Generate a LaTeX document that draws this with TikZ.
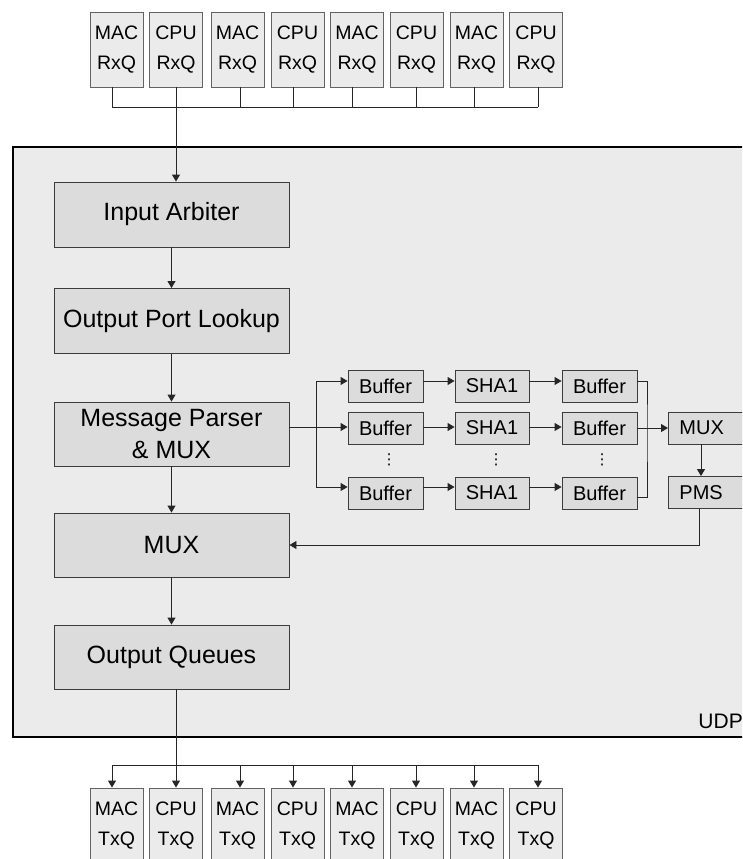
\documentclass[tikz,border=0pt]{standalone}
\usepackage{fontspec}
\setmainfont{Liberation Sans}
\newfontfamily\dotsfont{DejaVu Sans}
\usetikzlibrary{arrows.meta}
\definecolor{panel}{HTML}{EBEBEB}
\definecolor{blockfill}{HTML}{DCDCDC}
\definecolor{queuefill}{HTML}{EBEBEB}
\definecolor{edge}{HTML}{3C3C3C}

\begin{document}
\begin{tikzpicture}[x=1pt,y=-1pt,
  big/.style={draw=edge, fill=blockfill, line width=0.9pt, minimum width=235pt,
    minimum height=65pt, inner sep=0pt, font=\fontsize{25}{32}\selectfont, align=center},
  queue/.style={draw=edge!80, fill=queuefill, line width=0.9pt, minimum width=53pt,
    minimum height=75pt, inner sep=0pt, font=\fontsize{19.5}{30}\selectfont, align=center},
  small/.style={draw=edge, fill=blockfill, line width=0.9pt, minimum width=75pt,
    minimum height=32pt, inner sep=0pt, font=\fontsize{20}{24}\selectfont},
  side/.style={small, anchor=west, text width=72pt, align=left, inner xsep=11pt},
  wire/.style={draw=black!85, line width=0.9pt},
  arr/.style={wire, -{Triangle[length=7pt,width=8pt]}},
]
\useasboundingbox (0,0) rectangle (742,859);
\clip (0,0) rectangle (742,859);

% UDP module panel
\node[draw=black, line width=2pt, fill=panel, minimum width=747pt, minimum height=590pt,
  inner sep=0pt] (udp) at (386.3,442) {};
\node[anchor=base east, font=\fontsize{21}{24}\selectfont, inner sep=0pt] (udplabel) at (743,728) {UDP};

% main pipeline
\node[big] (ia)  at (171.5,214.5) {Input Arbiter};
\node[big] (opl) at (171.5,321)   {Output Port Lookup};
\node[big, minimum height=64pt] (mp) at (171.5,434) {Message Parser\\\& MUX};
\node[big, minimum height=64pt] (mux) at (171.5,545) {MUX};
\node[big, minimum height=64pt] (oq) at (171.5,657) {Output Queues};

\draw[arr] (ia) -- (opl);
\draw[arr] (opl) -- (mp);
\draw[arr] (mp) -- (mux);
\draw[arr] (mux) -- (oq);

% receive and transmit queues
\foreach \i/\cx/\dx/\kind in {1/116.5/112/MAC, 2/176/176/CPU, 3/237.5/240/MAC, 4/297.5/293/CPU,
    5/357/352/MAC, 6/416.5/416/CPU, 7/476.5/474/MAC, 8/536/538/CPU} {
  \node[queue] (rx\i) at (\cx,49.5) {\kind\\RxQ};
  \coordinate (tp\i) at (\dx,107);
  \draw[wire] (rx\i.south -| tp\i) -- (tp\i);
  \node[queue] (tx\i) at (\cx,825.5) {\kind\\TxQ};
  \coordinate (bt\i) at (\dx,765);
}
\draw[wire] (tp1) -- (tp8);
\draw[arr] (tp2) -- (ia.north -| tp2);

\draw[wire] (oq.south -| bt2) -- (bt2);
\draw[wire] (bt1) -- (bt8);
\foreach \i in {1,...,8} \draw[arr] (bt\i) -- (tx\i.north -| bt\i);

% hashing lanes
\foreach \r/\y in {1/386, 2/428, 3/493} {
  \node[small] (bf\r) at (385.5,\y) {Buffer};
  \node[small, minimum width=74pt] (sh\r) at (492,\y) {SHA1};
  \node[small] (bo\r) at (599.5,\y) {Buffer};
}
\foreach \r/\s in {1/5pt, 2/1pt, 3/6pt} {
  \draw[arr] ([yshift=\s]bf\r.east) -- ([yshift=\s]sh\r.west);
  \draw[arr] ([yshift=\s]sh\r.east) -- ([yshift=\s]bo\r.west);
}
\foreach \x/\n in {389/1, 496/2, 602/3}
  \node[font=\dotsfont\fontsize{15}{15}\selectfont, inner sep=0pt] (dots\n) at (\x,460) {⋮};

% fan-out from the parser
\coordinate (fk) at (316,427);
\draw[arr] (mp.east |- fk) -- (fk -| bf2.west);
\draw[arr] (fk) |- ([yshift=5pt]bf1.west);
\draw[arr] (fk) |- ([yshift=6pt]bf3.west);

% merge into MUX and PMS
\node[side] (mux2) at (668,428)   {MUX};
\node[side] (pms)  at (668,492.5) {PMS};
\coordinate (mg) at (647,427);
\draw[wire] ([yshift=5pt]bo1.east) -| (mg) |- ([yshift=-4pt]bo3.east);
\draw[arr] (bo2) -- (mux2);
\coordinate (vx) at (701,0);
\draw[arr] (mux2.south -| vx) -- (pms.north -| vx);
\coordinate (px) at (699,545);
\draw[arr] (pms.south -| px) |- (mux.east);
\end{tikzpicture}
\end{document}
